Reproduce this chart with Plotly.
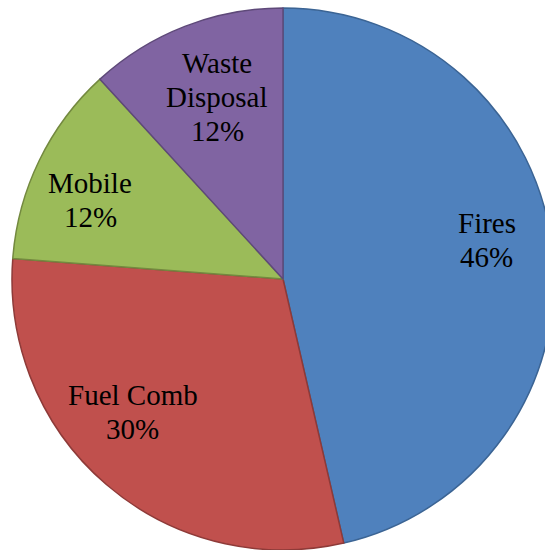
import math
import plotly.graph_objects as go

labels = ["Fires", "Fuel Comb", "Mobile", "Waste Disposal"]
label_lines = [["Fires"], ["Fuel Comb"], ["Mobile"], ["Waste", "Disposal"]]
values = [46.4, 29.8, 12.0, 11.8]
colors = ["#4F81BD", "#C0504D", "#9BBB59", "#8064A2"]
edge_colors = ["#3B6494", "#8E3A38", "#73893F", "#5E4979"]

# label placement tweaks (pixels), style only
label_dx = [2, -18, -10, 8]
label_dy = [-16, -21, 10, 7]   # positive = move down
line_gap = 34
font = dict(family="Liberation Serif, Times New Roman, serif", size=29, color="#000000")

fig = go.Figure(go.Pie(
    labels=labels,
    values=values,
    sort=False,
    direction="clockwise",
    rotation=0,
    marker=dict(colors=colors, line=dict(color=edge_colors, width=1.5)),
    textinfo="none",
    hoverinfo="label+percent",
    showlegend=False,
    domain=dict(x=[0, 1], y=[0, 1]),
))

total = sum(values)
cum = 0.0
annotations = []
for lines, v, dx, dy in zip(label_lines, values, label_dx, label_dy):
    mid = (cum + v / 2) / total * 2 * math.pi
    cum += v
    r = 0.375
    x = 0.5 + r * math.sin(mid)
    y = 0.5 + r * math.cos(mid)
    pct = round(v / total * 100)
    all_lines = lines + [f"{pct}%"]
    n = len(all_lines)
    for i, t in enumerate(all_lines):
        off = ((n - 1) / 2 - i) * line_gap
        annotations.append(dict(
            x=x, y=y, xref="paper", yref="paper",
            text=t, showarrow=False, font=font,
            xanchor="center", yanchor="middle",
            xshift=dx, yshift=off - dy,
        ))

fig.update_layout(
    width=566, height=558,
    margin=dict(l=12, r=12, t=8, b=8),
    paper_bgcolor="white", plot_bgcolor="white",
    annotations=annotations,
)

fig.write_html(
    "out.html",
    config={"displayModeBar": False},
    post_script="document.body.style.overflow='hidden';document.documentElement.style.overflow='hidden';document.body.style.margin='0';",
)
